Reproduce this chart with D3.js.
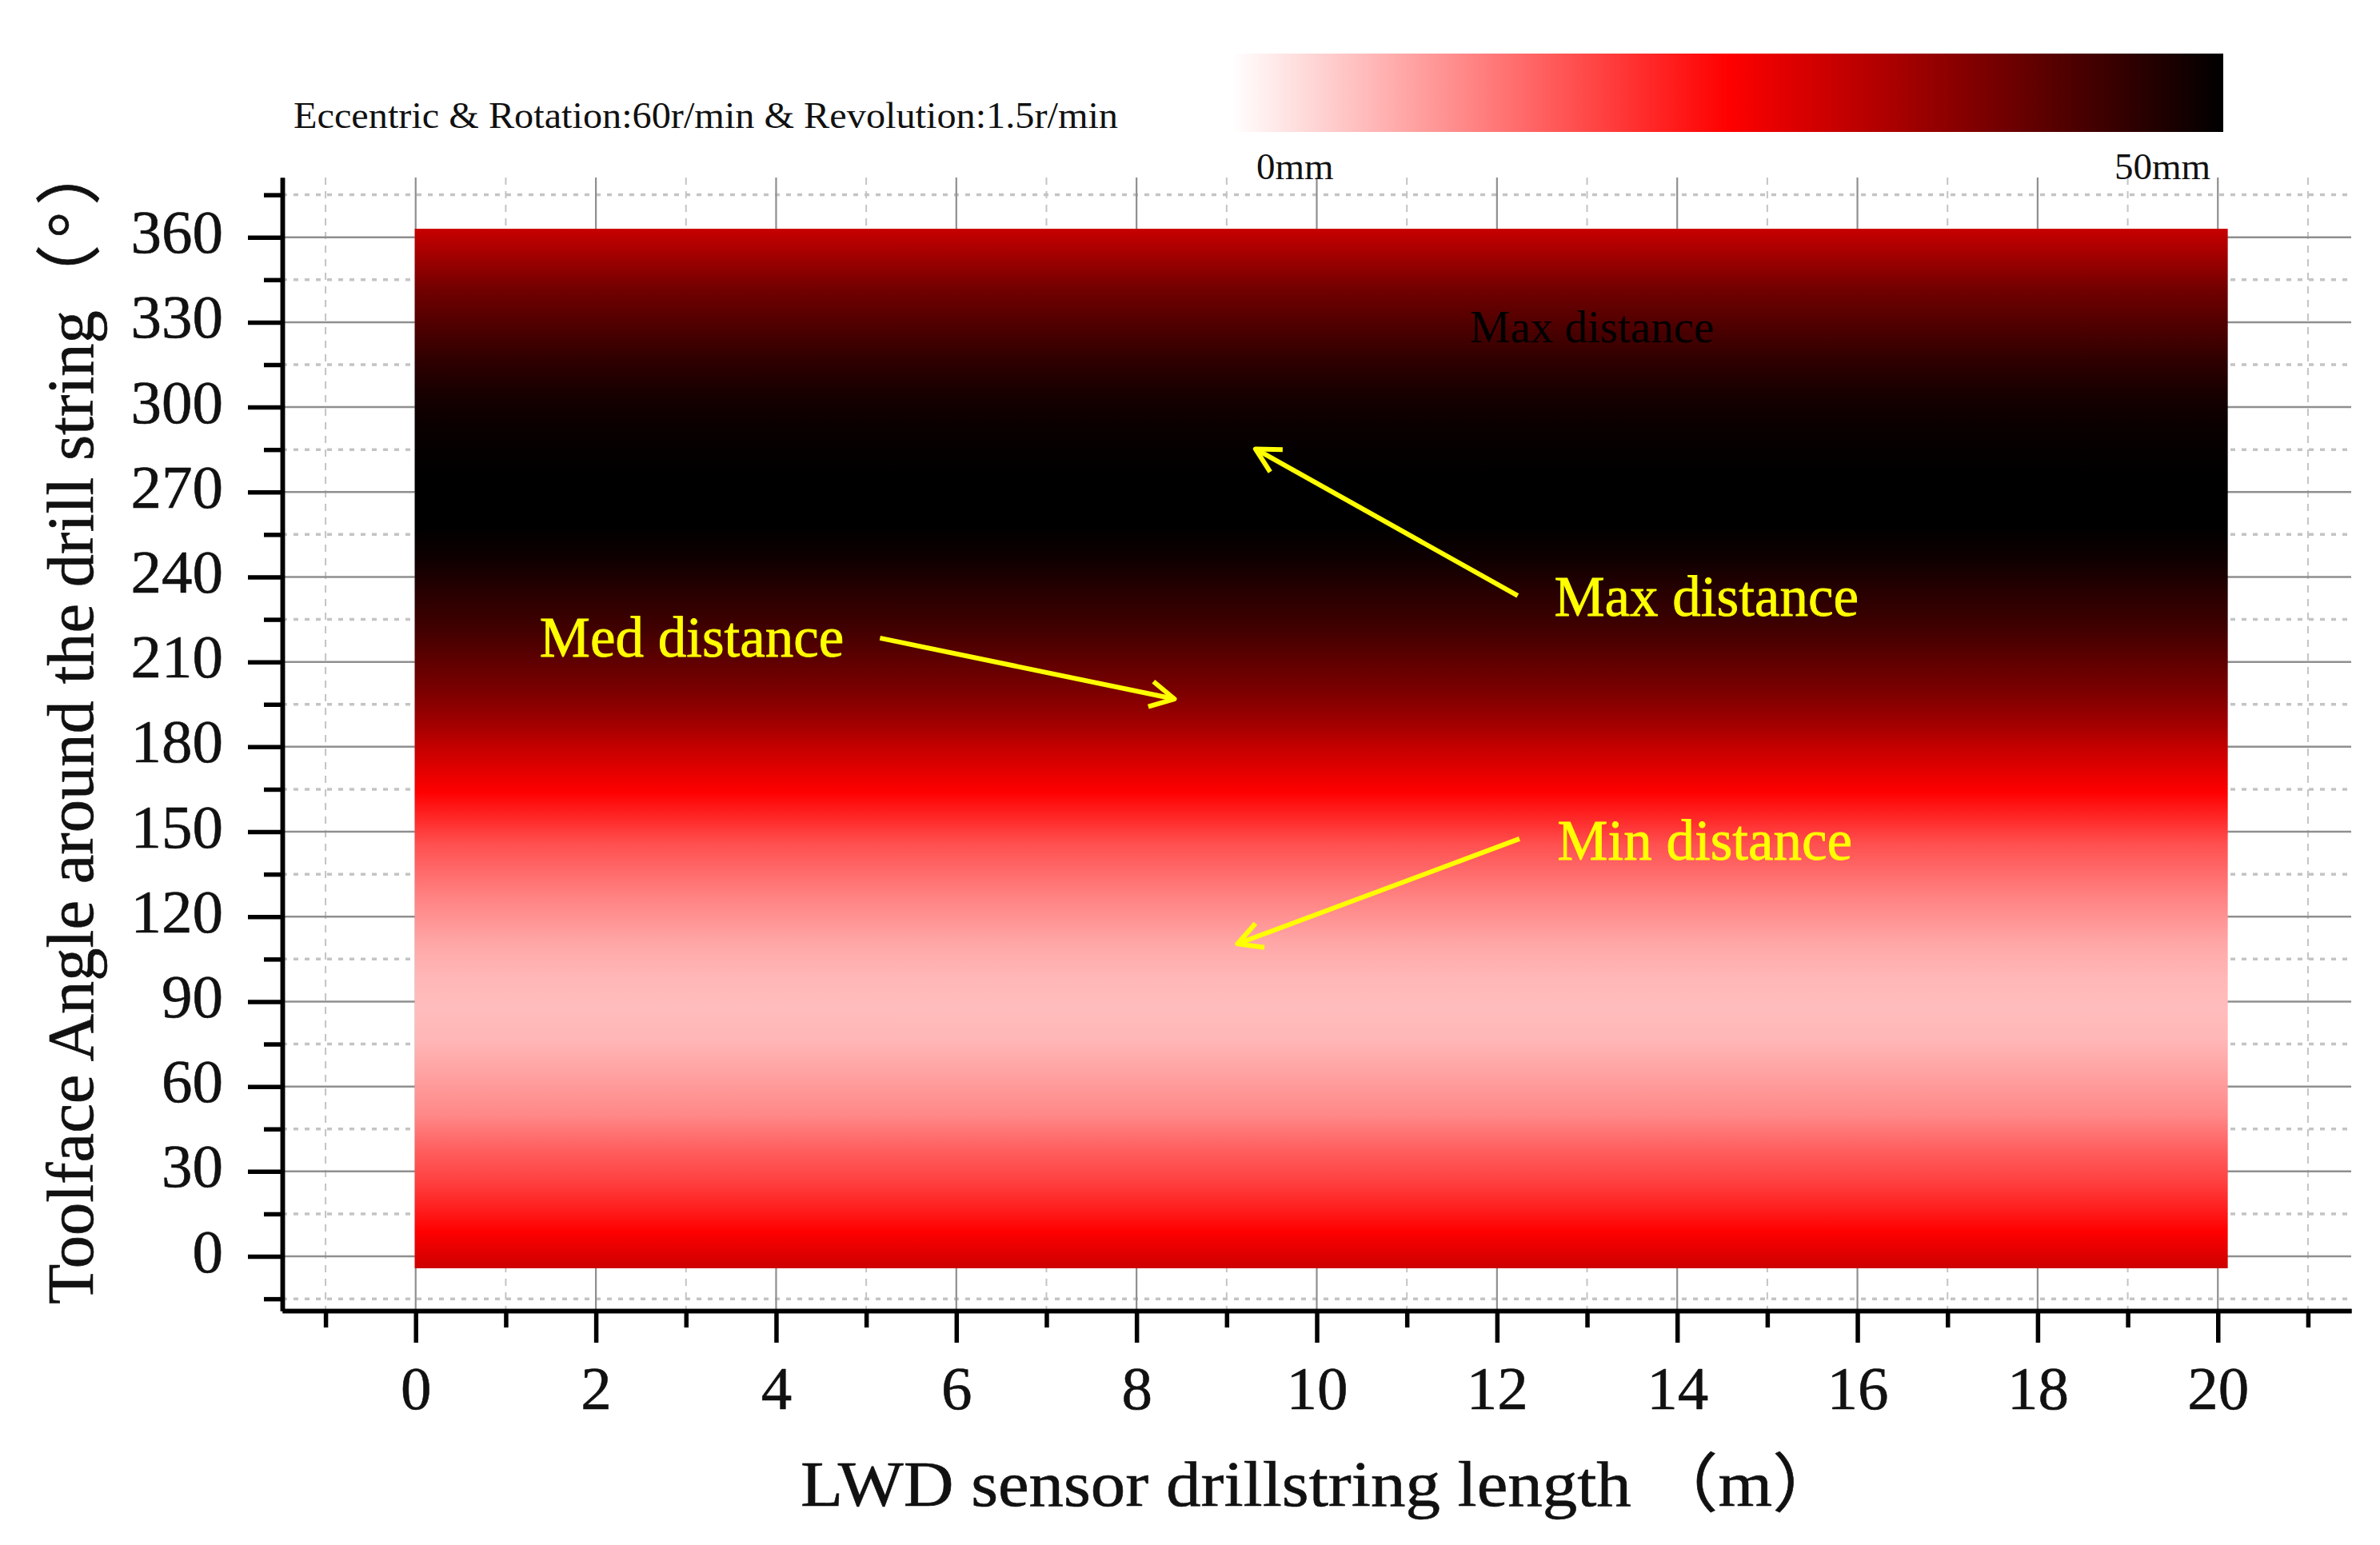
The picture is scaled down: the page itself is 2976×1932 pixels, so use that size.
<!DOCTYPE html>
<html>
<head>
  <meta charset="utf-8">
  <title>Toolface angle distance map</title>
  <script src="https://cdnjs.cloudflare.com/ajax/libs/d3/7.8.5/d3.min.js"></script>
  <style>
    body { margin: 0; background: #fff; }
    text { font-family: "Liberation Serif", "Noto Sans CJK SC", serif; fill: #111; }
  </style>
</head>
<body>
  <svg id="chart"></svg>
  <script>
    // values
    var angles =    [363, 353, 341, 329, 317, 305, 293.5, 275, 257.6, 245.7, 234, 222, 210, 198, 186.5, 181, 164, 145.5, 127.7, 109.8, 98, 88, 77, 68, 50, 38, 26.5, 17, 8.8, -4.2];
    var distances = [30.4, 34.3, 39, 42.2, 45.3, 47.6, 49, 50, 50, 48.4, 46, 43.7, 40.6, 37.5, 33.5, 31.2, 25, 17.2, 12.5, 8.5, 7.1, 6.6, 7.1, 8.5, 11.7, 15.6, 18.7, 22, 25, 30];
    var lengthRange = [-0.01, 20.11];

    var xMajor = [0, 2, 4, 6, 8, 10, 12, 14, 16, 18, 20];
    var xMinor = [-1, 1, 3, 5, 7, 9, 11, 13, 15, 17, 19, 21];
    var yMajor = [0, 30, 60, 90, 120, 150, 180, 210, 240, 270, 300, 330, 360];
    var yMinor = [-15, 15, 45, 75, 105, 135, 165, 195, 225, 255, 285, 315, 345, 375];

    var colorDomain = [0, 25, 50];
    var colorRange = ["#ffffff", "#ff0000", "#000000"];
    var legendLabels = ["0mm", "50mm"];

    // yellow notes, in chart units
    var notes = [
      {text: "Med distance", length: 1.376, angle: 211.9},
      {text: "Max distance", length: 12.635, angle: 226.3},
      {text: "Min distance", length: 12.67, angle: 140.2}
    ];
    var arrows = [
      {from: [5.153, 218.4], to: [8.42, 196.9]},
      {from: [12.23, 233.4], to: [9.32, 285.2]},
      {from: [12.25, 147.5], to: [9.12, 110.4]}
    ];

    var width = 2976, height = 1932;
    var left = 353, right = 2940, top_ = 222, bottom = 1639;

    var svg = d3.select("#chart")
      .attr("width", width)
      .attr("height", height)
      .style("display", "block");

    var x = d3.scaleLinear().domain([-1.48, 21.48]).range([left, right]);
    var y = d3.scaleLinear().domain([-19.2, 381.1]).range([bottom, top_]);
    var color = d3.scaleLinear().domain(colorDomain).range(colorRange);
    var legendX = d3.scaleLinear().domain([0, 50]).range([1541, 2780]);

    var defs = svg.append("defs");

    // map gradient, one stop per reading
    var yTop = y(angles[0]), yBottom = y(angles[angles.length - 1]);
    defs.append("linearGradient")
      .attr("id", "mapFill")
      .attr("x1", 0).attr("x2", 0).attr("y1", 0).attr("y2", 1)
      .selectAll("stop")
      .data(angles)
      .join("stop")
      .attr("offset", function(d) { return (y(d) - yTop) / (yBottom - yTop); })
      .attr("stop-color", function(d, i) { return color(distances[i]); });

    defs.append("linearGradient")
      .attr("id", "legendFill")
      .selectAll("stop")
      .data(colorDomain)
      .join("stop")
      .attr("offset", function(d) { return d / 50; })
      .attr("stop-color", function(d) { return color(d); });

    defs.append("marker")
      .attr("id", "arrowHead")
      .attr("markerUnits", "userSpaceOnUse")
      .attr("viewBox", "-40 -24 48 48")
      .attr("markerWidth", 48).attr("markerHeight", 48)
      .attr("refX", 0).attr("refY", 0)
      .attr("orient", "auto")
      .append("path")
      .attr("d", "M-30,-16L0,0L-30,16")
      .attr("fill", "none")
      .attr("stroke", "#ffff00")
      .attr("stroke-linejoin", "round")
      .attr("stroke-width", 6);

    // grid
    var grid = svg.append("g");
    grid.selectAll(".xMinorGrid").data(xMinor).join("line")
      .attr("x1", x).attr("x2", x).attr("y1", top_).attr("y2", bottom)
      .attr("stroke", "#c4c4c4").attr("stroke-width", 2).attr("stroke-dasharray", "9,8");
    grid.selectAll(".yMinorGrid").data(yMinor).join("line")
      .attr("x1", left).attr("x2", right).attr("y1", y).attr("y2", y)
      .attr("stroke", "#c4c4c4").attr("stroke-width", 3.5).attr("stroke-dasharray", "6,8");
    grid.selectAll(".xMajorGrid").data(xMajor).join("line")
      .attr("x1", x).attr("x2", x).attr("y1", top_).attr("y2", bottom)
      .attr("stroke", "#8f8f8f").attr("stroke-width", 2.2);
    grid.selectAll(".yMajorGrid").data(yMajor).join("line")
      .attr("x1", left).attr("x2", right).attr("y1", y).attr("y2", y)
      .attr("stroke", "#8f8f8f").attr("stroke-width", 2.5);

    // the map itself
    svg.append("rect")
      .attr("x", x(lengthRange[0]))
      .attr("y", yTop)
      .attr("width", x(lengthRange[1]) - x(lengthRange[0]))
      .attr("height", yBottom - yTop)
      .attr("fill", "url(#mapFill)");

    // axes
    function styleAxis(g) {
      g.select(".domain").attr("stroke", "#000").attr("stroke-width", 5.5);
      g.selectAll(".tick line").attr("stroke", "#000").attr("stroke-width", 5.5);
      g.selectAll("text")
        .style("font-size", "77px")
        .style("stroke", "#111")
        .style("stroke-width", 0.6);
    }

    svg.append("g")
      .attr("transform", "translate(0," + bottom + ")")
      .call(d3.axisBottom(x).tickValues(xMinor).tickSize(21).tickFormat("").tickSizeOuter(0))
      .call(styleAxis);
    svg.append("g")
      .attr("transform", "translate(0," + bottom + ")")
      .call(d3.axisBottom(x).tickValues(xMajor).tickSize(40).tickPadding(28).tickFormat(d3.format("d")).tickSizeOuter(0))
      .call(styleAxis)
      .call(function(g) { g.selectAll("text").attr("dy", "0.71em"); });

    svg.append("g")
      .attr("transform", "translate(" + left + ",0)")
      .call(d3.axisLeft(y).tickValues(yMinor).tickSize(23).tickFormat("").tickSizeOuter(0))
      .call(styleAxis);
    svg.append("g")
      .attr("transform", "translate(" + left + ",0)")
      .call(d3.axisLeft(y).tickValues(yMajor).tickSize(43).tickPadding(31).tickFormat(d3.format("d")).tickSizeOuter(0))
      .call(styleAxis)
      .call(function(g) { g.selectAll("text").attr("dy", "19px"); });

    // axis titles
    svg.append("text")
      .attr("x", 1001).attr("y", 1883)
      .attr("textLength", 1302).attr("lengthAdjust", "spacingAndGlyphs")
      .style("font-size", "80px")
      .style("stroke", "#111").style("stroke-width", 0.6)
      .text("LWD sensor drillstring length （m）");

    var yTitle = svg.append("text")
      .attr("transform", "translate(116,1631) rotate(-90)")
      .style("font-size", "82.5px")
      .style("stroke", "#111").style("stroke-width", 0.6);
    yTitle.append("tspan").text("Toolface Angle around the drill string（");
    yTitle.append("tspan").attr("dx", 8).text("°");
    yTitle.append("tspan").attr("dx", 8).text("）");

    // legend
    svg.append("text")
      .attr("x", 367).attr("y", 160)
      .attr("textLength", 1031).attr("lengthAdjust", "spacingAndGlyphs")
      .style("font-size", "47px")
      .text("Eccentric & Rotation:60r/min & Revolution:1.5r/min");

    svg.append("rect")
      .attr("x", legendX(0)).attr("y", 67)
      .attr("width", legendX(50) - legendX(0)).attr("height", 98)
      .attr("fill", "url(#legendFill)");

    svg.append("text")
      .attr("x", 1571).attr("y", 224)
      .style("font-size", "47px")
      .text(legendLabels[0]);
    svg.append("text")
      .attr("x", 2644).attr("y", 224)
      .style("font-size", "47px")
      .text(legendLabels[1]);

    // annotations
    svg.append("text")
      .attr("x", x(11.70)).attr("y", y(323))
      .style("font-size", "57px")
      .style("fill", "#000")
      .text("Max distance");

    svg.selectAll(".note").data(notes).join("text")
      .attr("x", function(d) { return x(d.length); })
      .attr("y", function(d) { return y(d.angle); })
      .style("font-size", "71px")
      .style("fill", "#ffff00")
      .style("stroke", "#ffff00")
      .style("stroke-width", 0.8)
      .text(function(d) { return d.text; });

    svg.selectAll(".arrow").data(arrows).join("line")
      .attr("x1", function(d) { return x(d.from[0]); })
      .attr("y1", function(d) { return y(d.from[1]); })
      .attr("x2", function(d) { return x(d.to[0]); })
      .attr("y2", function(d) { return y(d.to[1]); })
      .attr("stroke", "#ffff00")
      .attr("stroke-width", 6)
      .attr("marker-end", "url(#arrowHead)");
  </script>
</body>
</html>
